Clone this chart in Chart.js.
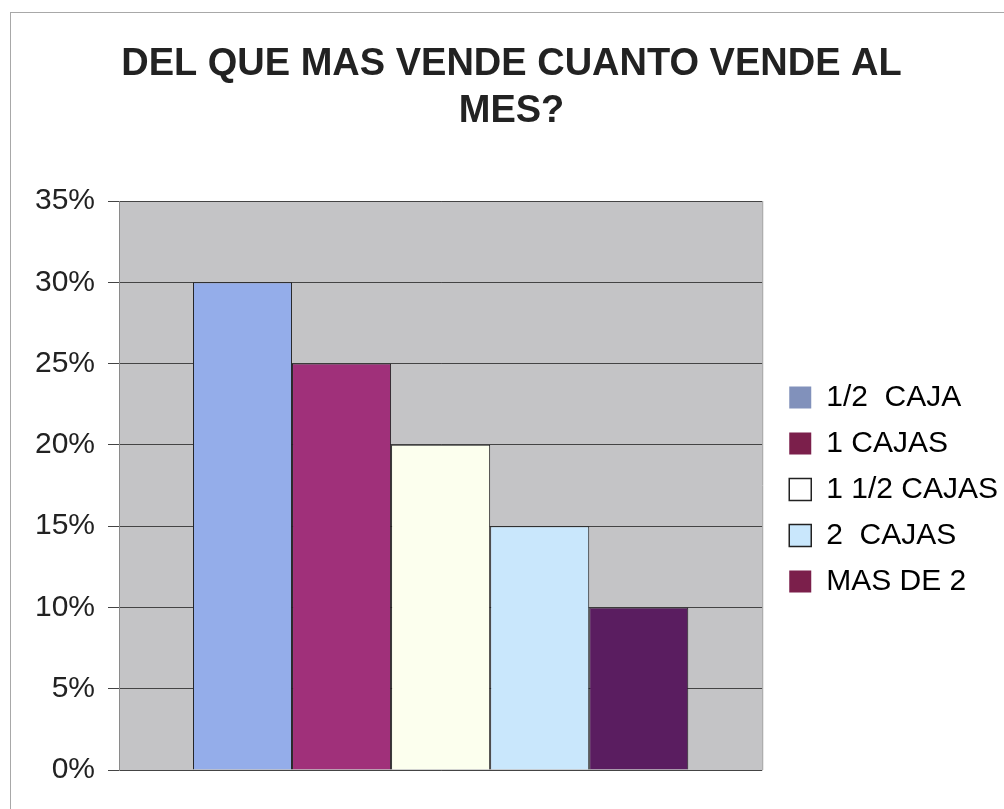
<!DOCTYPE html>
<html>
<head>
<meta charset="utf-8">
<script src="https://cdn.jsdelivr.net/npm/chart.js@4"></script>
<style>
  html, body { margin: 0; padding: 0; background: #fff; }
  #wrap { position: relative; width: 1004px; height: 809px; overflow: hidden; }
  #frame { position: absolute; left: 10px; top: 12px; width: 1100px; height: 900px;
           border-left: 1px solid #a8a8a8; border-top: 1px solid #a8a8a8; }
  #chart { position: absolute; left: 0; top: 0; }
</style>
</head>
<body>
<div id="wrap">
  <div id="frame"></div>
  <canvas id="chart" width="1004" height="809"></canvas>
</div>
<script>
const titleLines = ['DEL QUE MAS VENDE CUANTO VENDE AL', 'MES?'];
const categories = [''];
const seriesNames = ['1/2  CAJA', '1 CAJAS', '1 1/2 CAJAS', '2  CAJAS', 'MAS DE 2'];
const seriesValues = [30, 25, 20, 15, 10];
const barColors = ['#94adea', '#a0307a', '#fcffee', '#c9e7fc', '#5a1d60'];
const legendColors = ['#8191bb', '#7b1f4b', '#ffffff', '#c9e7fc', '#7b1f4b'];
const yTicks = [0, 5, 10, 15, 20, 25, 30, 35];

const plotBg = {
    id: 'plotBg',
    beforeDraw(chart) {
        const a = chart.chartArea, c = chart.ctx;
        c.save();
        c.fillStyle = '#c4c4c6';
        c.fillRect(a.left, a.top, a.right - a.left, a.bottom - a.top);
        c.restore();
    },
    afterDraw(chart) {
        const a = chart.chartArea, c = chart.ctx;
        c.save();
        c.strokeStyle = '#9a9a9a';
        c.lineWidth = 1;
        c.beginPath();
        c.moveTo(a.right + 0.5, a.top);
        c.lineTo(a.right + 0.5, a.bottom);
        c.stroke();
        c.restore();
    },
    afterLayout(chart) {
        // legend sits a bit off the plot and centred on it; title a touch right
        const lg = chart.legend, a = chart.chartArea, t = chart.titleBlock;
        lg.left += 11;
        lg.right += 11;
        lg.top = a.top + 4;
        lg.bottom = a.bottom + 4;
        t.left += 13;
        t.right += 13;
    }
};

const ctx = document.getElementById('chart').getContext('2d');
const chart = new Chart(ctx, {
    type: 'bar',
    data: {
        labels: categories,
        datasets: seriesNames.map((name, i) => ({
            label: name,
            data: [seriesValues[i]],
            backgroundColor: barColors[i],
            borderColor: '#222',
            borderWidth: 1,
            barPercentage: 1,
            categoryPercentage: 0.77
        }))
    },
    options: {
        responsive: false,
        animation: false,
        layout: { padding: { top: 29, right: 7, bottom: 39, left: 0 } },
        scales: {
            x: { display: false },
            y: {
                min: 0,
                max: 35,
                afterBuildTicks: s => { s.ticks = yTicks.map(v => ({ value: v })); },
                afterFit: s => { s.width = 119; },
                ticks: {
                    callback: v => v + '%',
                    font: { family: 'Liberation Sans, Arial', size: 30 },
                    color: '#222',
                    padding: 13
                },
                grid: { color: '#444', tickLength: 11, tickColor: '#444' },
                border: { color: '#8a8a8a' }
            }
        },
        plugins: {
            title: {
                display: true,
                text: titleLines,
                font: { family: 'Liberation Sans, Arial', size: 38, weight: 'bold', lineHeight: 1.237 },
                color: '#222',
                padding: { top: 12, bottom: 66 }
            },
            legend: {
                position: 'right',
                labels: {
                    font: { family: 'Liberation Sans, Arial', size: 30 },
                    color: '#222',
                    boxWidth: 22,
                    boxHeight: 22,
                    padding: 16,
                    generateLabels: ch => ch.data.datasets.map((d, i) => ({
                        text: d.label,
                        fillStyle: legendColors[i],
                        strokeStyle: '#222',
                        lineWidth: (i === 2 || i === 3) ? 1.5 : 0,
                        datasetIndex: i
                    }))
                }
            },
            tooltip: { enabled: false }
        }
    },
    plugins: [plotBg]
});
</script>
</body>
</html>
